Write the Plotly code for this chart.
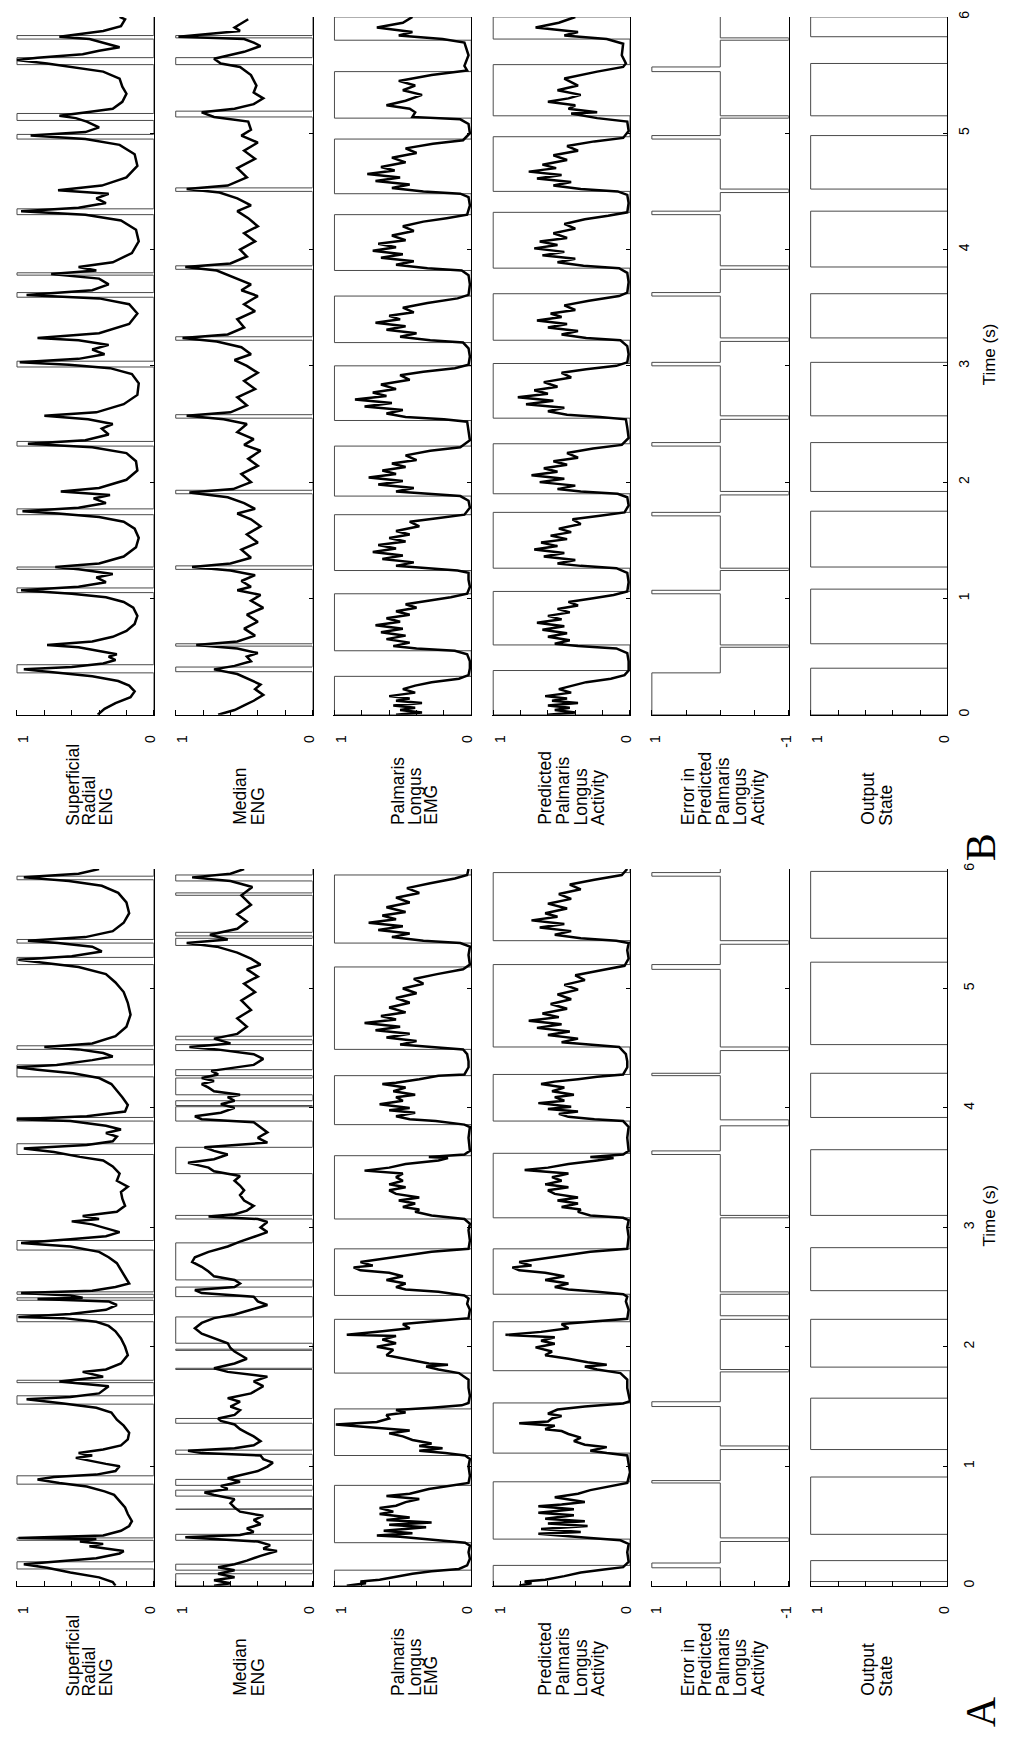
import plotly.graph_objects as go

# ---------------- page geometry (pixels) ----------------
W, H = 1010, 1739
COL_LEFT = [13 + 160 * c for c in range(6)]
COL_W = 139
# pixel rows of t=0 and t=6 for each panel
PANEL_ROWS = {"A": (1587, 867), "B": (712, 11)}
LABEL_START = {"A": 1700, "B": 825}

# ======================= panel A : recorded signals (time s, normalised value) =======================
a_sr = [(0.0, 0.28), (0.03, 0.30), (0.07, 0.40), (0.11, 0.61), (0.15, 0.78), (0.18, 0.95), (0.20, 0.73),
        (0.23, 0.42), (0.27, 0.25), (0.29, 0.22), (0.33, 0.47), (0.35, 0.37), (0.37, 0.54), (0.39, 0.42),
        (0.40, 0.99), (0.42, 0.37), (0.46, 0.24), (0.50, 0.18), (0.54, 0.16), (0.60, 0.19), (0.655, 0.21),
        (0.71, 0.25), (0.76, 0.29), (0.79, 0.36), (0.83, 0.49), (0.86, 0.69), (0.89, 0.85), (0.91, 0.73),
        (0.93, 0.42), (0.96, 0.28), (1.0, 0.25), (1.02, 0.35), (1.05, 0.49), (1.07, 0.57), (1.09, 0.45),
        (1.11, 0.55), (1.14, 0.37), (1.175, 0.24), (1.225, 0.19), (1.28, 0.18), (1.34, 0.22), (1.39, 0.27),
        (1.45, 0.31), (1.49, 0.42), (1.525, 0.66), (1.56, 0.93), (1.58, 0.61), (1.61, 0.40), (1.67, 0.33),
        (1.71, 0.69), (1.75, 0.37), (1.79, 0.52), (1.81, 0.35), (1.86, 0.24), (1.93, 0.19), (2.0, 0.21),
        (2.07, 0.24), (2.13, 0.28), (2.175, 0.33), (2.21, 0.42), (2.24, 0.66), (2.25, 0.99), (2.275, 0.61),
        (2.31, 0.35), (2.35, 0.27), (2.38, 0.33), (2.40, 0.85), (2.41, 0.52), (2.43, 0.61), (2.45, 0.97),
        (2.47, 0.45), (2.50, 0.28), (2.53, 0.18), (2.59, 0.21), (2.64, 0.24), (2.70, 0.27), (2.75, 0.33),
        (2.795, 0.40), (2.84, 0.61), (2.87, 0.97), (2.90, 0.61), (2.925, 0.35), (2.96, 0.25), (2.99, 0.35),
        (3.025, 0.45), (3.05, 0.60), (3.07, 0.40), (3.095, 0.52), (3.13, 0.27), (3.18, 0.21), (3.24, 0.23),
        (3.295, 0.24), (3.34, 0.19), (3.39, 0.27), (3.45, 0.25), (3.51, 0.30), (3.56, 0.37), (3.59, 0.54),
        (3.63, 0.73), (3.66, 0.95), (3.69, 0.49), (3.72, 0.30), (3.76, 0.27), (3.79, 0.35), (3.82, 0.24),
        (3.85, 0.35), (3.89, 0.61), (3.905, 1.0), (3.93, 0.49), (3.97, 0.21), (4.025, 0.19), (4.09, 0.23),
        (4.15, 0.27), (4.20, 0.31), (4.25, 0.40), (4.29, 0.59), (4.32, 0.85), (4.34, 1.0), (4.36, 0.71),
        (4.40, 0.45), (4.43, 0.30), (4.46, 0.37), (4.49, 0.55), (4.51, 0.80), (4.54, 0.45), (4.60, 0.28),
        (4.68, 0.20), (4.78, 0.17), (4.88, 0.19), (4.97, 0.22), (5.05, 0.28), (5.12, 0.35), (5.18, 0.55),
        (5.22, 0.85), (5.24, 0.99), (5.27, 0.60), (5.31, 0.38), (5.35, 0.45), (5.38, 0.70), (5.40, 0.92),
        (5.43, 0.50), (5.48, 0.30), (5.55, 0.22), (5.63, 0.18), (5.72, 0.20), (5.80, 0.26), (5.86, 0.38),
        (5.90, 0.62), (5.93, 0.95), (5.96, 0.55), (6.0, 0.40)]

a_med = [(0.0, 0.72), (0.02, 0.60), (0.045, 0.72), (0.07, 0.57), (0.10, 0.69), (0.13, 0.57), (0.155, 0.69),
         (0.18, 0.57), (0.21, 0.48), (0.25, 0.38), (0.29, 0.26), (0.31, 0.36), (0.34, 0.31), (0.37, 0.40),
         (0.39, 0.72), (0.405, 0.93), (0.425, 0.53), (0.45, 0.43), (0.48, 0.48), (0.515, 0.38), (0.55, 0.43),
         (0.585, 0.36), (0.62, 0.53), (0.655, 0.57), (0.69, 0.60), (0.725, 0.57), (0.76, 0.72), (0.78, 0.79),
         (0.81, 0.62), (0.835, 0.67), (0.87, 0.53), (0.90, 0.62), (0.925, 0.53), (0.96, 0.40), (0.997, 0.33),
         (1.03, 0.29), (1.06, 0.36), (1.09, 0.38), (1.11, 0.81), (1.13, 0.91), (1.15, 0.57), (1.175, 0.43),
         (1.21, 0.38), (1.25, 0.43), (1.28, 0.48), (1.31, 0.53), (1.35, 0.57), (1.38, 0.67), (1.40, 0.69),
         (1.43, 0.57), (1.47, 0.53), (1.50, 0.60), (1.54, 0.53), (1.57, 0.62), (1.61, 0.45), (1.67, 0.36),
         (1.71, 0.43), (1.75, 0.33), (1.79, 0.62), (1.82, 0.72), (1.86, 0.57), (1.90, 0.48), (1.96, 0.57),
         (1.99, 0.60), (2.03, 0.62), (2.07, 0.72), (2.11, 0.81), (2.155, 0.86), (2.20, 0.81), (2.24, 0.72),
         (2.27, 0.57), (2.31, 0.45), (2.35, 0.33), (2.38, 0.40), (2.42, 0.43), (2.45, 0.81), (2.475, 0.86),
         (2.50, 0.57), (2.53, 0.53), (2.56, 0.57), (2.59, 0.72), (2.63, 0.76), (2.67, 0.81), (2.71, 0.88),
         (2.75, 0.86), (2.795, 0.76), (2.84, 0.62), (2.88, 0.53), (2.92, 0.43), (2.96, 0.33), (3.0, 0.38),
         (3.045, 0.33), (3.07, 0.40), (3.09, 0.76), (3.11, 0.57), (3.14, 0.48), (3.18, 0.43), (3.225, 0.50),
         (3.27, 0.53), (3.31, 0.50), (3.35, 0.53), (3.39, 0.57), (3.43, 0.53), (3.47, 0.72), (3.50, 0.76),
         (3.54, 0.91), (3.57, 0.72), (3.61, 0.62), (3.64, 0.72), (3.67, 0.79), (3.71, 0.33), (3.75, 0.40),
         (3.795, 0.33), (3.84, 0.38), (3.88, 0.43), (3.905, 0.81), (3.93, 0.86), (3.96, 0.67), (4.0, 0.57),
         (4.03, 0.67), (4.06, 0.57), (4.09, 0.62), (4.11, 0.53), (4.14, 0.72), (4.17, 0.76), (4.20, 0.81),
         (4.225, 0.72), (4.25, 0.81), (4.28, 0.69), (4.31, 0.74), (4.34, 0.53), (4.36, 0.43), (4.41, 0.36),
         (4.45, 0.43), (4.49, 0.70), (4.51, 0.90), (4.54, 0.60), (4.58, 0.72), (4.62, 0.55), (4.68, 0.48),
         (4.75, 0.55), (4.82, 0.45), (4.90, 0.52), (4.97, 0.42), (5.04, 0.50), (5.10, 0.40), (5.16, 0.48),
         (5.20, 0.38), (5.25, 0.45), (5.30, 0.55), (5.35, 0.70), (5.38, 0.92), (5.41, 0.62), (5.45, 0.75),
         (5.50, 0.55), (5.56, 0.48), (5.62, 0.55), (5.70, 0.45), (5.78, 0.52), (5.85, 0.44), (5.90, 0.60),
         (5.93, 0.88), (5.96, 0.60), (6.0, 0.50)]

a_emg = [(0.0, 0.91), (0.02, 0.77), (0.035, 0.81), (0.05, 0.67), (0.07, 0.57), (0.10, 0.43), (0.12, 0.29),
         (0.14, 0.09), (0.17, 0.03), (0.225, 0.01), (0.28, 0.02), (0.335, 0.01), (0.36, 0.045), (0.38, 0.24),
         (0.41, 0.52), (0.42, 0.69), (0.44, 0.43), (0.46, 0.64), (0.49, 0.33), (0.51, 0.60), (0.53, 0.29),
         (0.55, 0.62), (0.57, 0.45), (0.60, 0.67), (0.62, 0.57), (0.65, 0.67), (0.67, 0.55), (0.70, 0.48),
         (0.725, 0.38), (0.75, 0.62), (0.77, 0.45), (0.81, 0.31), (0.84, 0.12), (0.86, 0.02), (0.92, 0.01),
         (1.0, 0.02), (1.06, 0.01), (1.09, 0.045), (1.11, 0.19), (1.13, 0.38), (1.15, 0.21), (1.17, 0.38),
         (1.19, 0.29), (1.22, 0.43), (1.25, 0.50), (1.275, 0.60), (1.30, 0.45), (1.32, 0.64), (1.34, 0.88),
         (1.35, 0.99), (1.37, 0.69), (1.40, 0.60), (1.43, 0.62), (1.45, 0.48), (1.47, 0.55), (1.49, 0.29),
         (1.51, 0.07), (1.53, 0.02), (1.59, 0.01), (1.655, 0.02), (1.725, 0.02), (1.78, 0.09), (1.81, 0.24),
         (1.835, 0.33), (1.85, 0.17), (1.86, 0.31), (1.90, 0.48), (1.93, 0.62), (1.975, 0.57), (2.0, 0.69),
         (2.03, 0.55), (2.06, 0.65), (2.09, 0.55), (2.10, 0.91), (2.13, 0.65), (2.155, 0.45), (2.19, 0.50),
         (2.22, 0.24), (2.24, 0.02), (2.31, 0.01), (2.36, 0.03), (2.405, 0.02), (2.43, 0.05), (2.46, 0.24),
         (2.48, 0.48), (2.50, 0.55), (2.53, 0.48), (2.56, 0.62), (2.59, 0.50), (2.62, 0.60), (2.64, 0.81),
         (2.665, 0.86), (2.68, 0.72), (2.71, 0.81), (2.74, 0.62), (2.77, 0.43), (2.795, 0.29), (2.82, 0.02),
         (2.89, 0.01), (2.975, 0.02), (3.03, 0.01), (3.07, 0.05), (3.10, 0.29), (3.13, 0.41), (3.15, 0.38),
         (3.17, 0.50), (3.20, 0.41), (3.225, 0.53), (3.25, 0.38), (3.28, 0.55), (3.31, 0.60), (3.335, 0.48),
         (3.36, 0.60), (3.39, 0.50), (3.42, 0.55), (3.45, 0.50), (3.475, 0.78), (3.50, 0.60), (3.53, 0.48),
         (3.56, 0.24), (3.58, 0.17), (3.59, 0.31), (3.61, 0.05), (3.64, 0.01), (3.75, 0.02), (3.84, 0.01),
         (3.86, 0.05), (3.89, 0.26), (3.905, 0.45), (3.93, 0.55), (3.96, 0.41), (3.98, 0.60), (4.0, 0.45),
         (4.03, 0.67), (4.06, 0.50), (4.09, 0.55), (4.11, 0.41), (4.14, 0.57), (4.17, 0.48), (4.20, 0.65),
         (4.21, 0.55), (4.24, 0.38), (4.27, 0.24), (4.28, 0.05), (4.34, 0.02), (4.39, 0.02), (4.45, 0.03),
         (4.49, 0.06), (4.51, 0.30), (4.53, 0.52), (4.56, 0.40), (4.59, 0.62), (4.62, 0.45), (4.65, 0.70),
         (4.68, 0.52), (4.71, 0.78), (4.74, 0.55), (4.77, 0.66), (4.80, 0.48), (4.84, 0.60), (4.88, 0.45),
         (4.92, 0.55), (4.96, 0.40), (5.00, 0.50), (5.04, 0.35), (5.08, 0.42), (5.12, 0.25), (5.16, 0.06),
         (5.20, 0.01), (5.28, 0.02), (5.35, 0.01), (5.38, 0.08), (5.40, 0.35), (5.43, 0.58), (5.46, 0.45),
         (5.49, 0.68), (5.52, 0.50), (5.55, 0.75), (5.58, 0.55), (5.61, 0.65), (5.64, 0.48), (5.68, 0.62),
         (5.72, 0.45), (5.76, 0.55), (5.80, 0.38), (5.84, 0.47), (5.88, 0.30), (5.92, 0.12), (5.95, 0.03),
         (6.0, 0.02)]

a_pred = [(0.0, 0.81), (0.02, 0.72), (0.035, 0.77), (0.05, 0.62), (0.08, 0.48), (0.11, 0.36), (0.135, 0.19),
          (0.155, 0.05), (0.20, 0.01), (0.28, 0.02), (0.35, 0.01), (0.38, 0.07), (0.40, 0.29), (0.42, 0.48),
          (0.435, 0.67), (0.45, 0.36), (0.475, 0.65), (0.50, 0.31), (0.52, 0.60), (0.54, 0.33), (0.56, 0.62),
          (0.59, 0.41), (0.61, 0.67), (0.64, 0.41), (0.665, 0.67), (0.68, 0.50), (0.70, 0.33), (0.74, 0.55),
          (0.77, 0.38), (0.80, 0.29), (0.835, 0.12), (0.86, 0.02), (0.95, 0.0), (1.03, 0.01), (1.09, 0.02),
          (1.11, 0.17), (1.13, 0.29), (1.16, 0.17), (1.18, 0.33), (1.21, 0.41), (1.24, 0.36), (1.27, 0.45),
          (1.295, 0.50), (1.31, 0.62), (1.34, 0.55), (1.36, 0.81), (1.375, 0.60), (1.40, 0.57), (1.42, 0.50),
          (1.44, 0.60), (1.475, 0.53), (1.50, 0.33), (1.525, 0.05), (1.545, 0.0), (1.61, 0.01), (1.655, 0.02),
          (1.725, 0.02), (1.78, 0.07), (1.81, 0.24), (1.835, 0.33), (1.85, 0.17), (1.87, 0.31), (1.90, 0.45),
          (1.93, 0.62), (1.96, 0.57), (1.995, 0.69), (2.025, 0.55), (2.05, 0.65), (2.08, 0.55), (2.10, 0.91),
          (2.125, 0.65), (2.155, 0.45), (2.19, 0.50), (2.215, 0.24), (2.235, 0.02), (2.31, 0.01), (2.38, 0.03),
          (2.42, 0.02), (2.44, 0.05), (2.46, 0.24), (2.48, 0.45), (2.50, 0.55), (2.53, 0.45), (2.56, 0.62),
          (2.59, 0.48), (2.62, 0.62), (2.64, 0.81), (2.665, 0.86), (2.68, 0.72), (2.71, 0.81), (2.74, 0.62),
          (2.77, 0.43), (2.795, 0.29), (2.82, 0.02), (2.92, 0.01), (3.0, 0.02), (3.06, 0.01), (3.08, 0.05),
          (3.10, 0.29), (3.13, 0.38), (3.15, 0.36), (3.17, 0.50), (3.20, 0.38), (3.225, 0.53), (3.25, 0.38),
          (3.28, 0.55), (3.31, 0.60), (3.335, 0.45), (3.36, 0.62), (3.39, 0.50), (3.42, 0.57), (3.45, 0.45),
          (3.48, 0.77), (3.50, 0.60), (3.53, 0.45), (3.56, 0.24), (3.58, 0.12), (3.59, 0.29), (3.61, 0.05),
          (3.64, 0.01), (3.75, 0.02), (3.84, 0.01), (3.89, 0.05), (3.905, 0.26), (3.925, 0.45), (3.95, 0.52),
          (3.97, 0.38), (3.99, 0.60), (4.01, 0.43), (4.04, 0.67), (4.06, 0.48), (4.09, 0.55), (4.11, 0.41),
          (4.14, 0.57), (4.17, 0.48), (4.20, 0.65), (4.22, 0.55), (4.24, 0.38), (4.26, 0.24), (4.28, 0.05),
          (4.34, 0.02), (4.39, 0.02), (4.45, 0.03), (4.51, 0.08), (4.53, 0.32), (4.55, 0.50), (4.58, 0.38),
          (4.61, 0.60), (4.64, 0.44), (4.67, 0.68), (4.70, 0.50), (4.73, 0.74), (4.76, 0.52), (4.79, 0.64),
          (4.83, 0.46), (4.87, 0.58), (4.91, 0.43), (4.95, 0.53), (4.99, 0.38), (5.03, 0.48), (5.07, 0.33),
          (5.11, 0.40), (5.15, 0.22), (5.19, 0.04), (5.25, 0.01), (5.32, 0.02), (5.38, 0.01), (5.40, 0.10),
          (5.42, 0.36), (5.45, 0.55), (5.48, 0.43), (5.51, 0.66), (5.54, 0.48), (5.57, 0.72), (5.60, 0.53),
          (5.63, 0.62), (5.67, 0.46), (5.71, 0.60), (5.75, 0.43), (5.79, 0.52), (5.83, 0.36), (5.87, 0.44),
          (5.91, 0.26), (5.95, 0.06), (6.0, 0.02)]

# panel A : detector / state records, (on, off) in seconds
a_sr_events = [(0.14, 0.20), (0.38, 0.40), (0.85, 0.92), (1.52, 1.59), (1.70, 1.72), (2.21, 2.27), (2.39, 2.41),
               (2.44, 2.46), (2.81, 2.89), (3.61, 3.70), (3.89, 3.92), (4.26, 4.36), (4.49, 4.52), (5.20, 5.26),
               (5.38, 5.41), (5.91, 5.94)]
a_med_events = [(0.0, 0.10), (0.13, 0.18), (0.38, 0.43), (0.64, 0.645), (0.75, 0.80), (0.84, 0.89), (1.10, 1.135),
                (1.36, 1.40), (1.81, 1.82), (1.97, 1.98), (2.03, 2.25), (2.42, 2.50), (2.56, 2.87), (3.07, 3.10),
                (3.45, 3.67), (3.89, 4.01), (4.02, 4.06), (4.11, 4.25), (4.27, 4.32), (4.48, 4.53), (4.57, 4.60),
                (5.36, 5.42), (5.44, 5.47), (5.78, 5.80), (5.90, 5.95)]
a_emg_on = [(0.0, 0.13), (0.36, 0.84), (1.09, 1.48), (1.78, 2.23), (2.43, 2.82), (3.07, 3.60), (3.86, 4.27),
            (4.49, 5.18), (5.38, 5.95)]
a_pred_on = [(0.0, 0.17), (0.39, 0.87), (1.11, 1.53), (1.80, 2.21), (2.44, 2.82), (3.08, 3.62), (3.89, 4.28),
             (4.51, 5.20), (5.40, 5.97)]
a_state_on = [(0.035, 0.21), (0.43, 0.91), (1.14, 1.57), (1.83, 2.23), (2.47, 2.83), (3.10, 3.65), (3.92, 4.29),
              (4.53, 5.22), (5.42, 5.98)]
a_error = [(0.15, 0.19, 1), (0.37, 0.40, -1), (0.86, 0.88, 1), (1.14, 1.17, -1), (1.50, 1.54, 1), (1.79, 1.81, -1),
           (2.23, 2.26, -1), (2.44, 2.46, -1), (3.08, 3.10, -1), (3.61, 3.64, 1), (3.85, 3.90, -1), (4.27, 4.29, 1),
           (4.48, 4.51, -1), (5.16, 5.20, 1), (5.37, 5.40, -1), (5.94, 5.97, 1)]

# ======================= panel B : recorded signals =======================
b_sr = [(0.0, 0.41), (0.05, 0.36), (0.10, 0.28), (0.15, 0.17), (0.20, 0.14), (0.25, 0.18), (0.29, 0.26),
        (0.33, 0.45), (0.36, 0.70), (0.39, 0.95), (0.41, 0.60), (0.44, 0.37), (0.47, 0.28), (0.50, 0.33),
        (0.52, 0.27), (0.55, 0.40), (0.58, 0.55), (0.60, 0.78), (0.63, 0.45), (0.67, 0.30), (0.72, 0.20),
        (0.78, 0.14), (0.85, 0.12), (0.92, 0.15), (0.97, 0.22), (1.01, 0.35), (1.04, 0.60), (1.07, 0.97),
        (1.10, 0.55), (1.14, 0.35), (1.18, 0.42), (1.21, 0.30), (1.25, 0.55), (1.27, 0.72), (1.30, 0.40),
        (1.36, 0.22), (1.44, 0.13), (1.52, 0.11), (1.60, 0.14), (1.66, 0.22), (1.70, 0.40), (1.73, 0.70),
        (1.75, 0.96), (1.78, 0.55), (1.82, 0.35), (1.86, 0.44), (1.89, 0.32), (1.92, 0.68), (1.95, 0.40),
        (2.02, 0.20), (2.10, 0.12), (2.18, 0.13), (2.25, 0.20), (2.30, 0.45), (2.33, 0.92), (2.36, 0.50),
        (2.41, 0.33), (2.46, 0.38), (2.50, 0.30), (2.54, 0.48), (2.57, 0.80), (2.60, 0.42), (2.67, 0.22),
        (2.75, 0.12), (2.85, 0.11), (2.93, 0.16), (2.98, 0.32), (3.01, 0.62), (3.03, 0.98), (3.06, 0.55),
        (3.10, 0.36), (3.14, 0.45), (3.18, 0.33), (3.22, 0.55), (3.24, 0.85), (3.28, 0.40), (3.36, 0.18),
        (3.45, 0.12), (3.53, 0.18), (3.58, 0.40), (3.61, 0.93), (3.65, 0.45), (3.70, 0.33), (3.75, 0.40),
        (3.79, 0.75), (3.82, 0.42), (3.85, 0.55), (3.89, 0.30), (3.97, 0.16), (4.07, 0.11), (4.17, 0.13),
        (4.25, 0.24), (4.30, 0.50), (4.33, 0.97), (4.36, 0.55), (4.40, 0.35), (4.44, 0.42), (4.48, 0.33),
        (4.51, 0.70), (4.55, 0.38), (4.62, 0.20), (4.72, 0.12), (4.82, 0.14), (4.90, 0.25), (4.95, 0.50),
        (4.98, 0.90), (5.01, 0.50), (5.05, 0.40), (5.10, 0.49), (5.13, 0.57), (5.15, 0.69), (5.18, 0.49),
        (5.21, 0.30), (5.27, 0.23), (5.34, 0.20), (5.40, 0.23), (5.47, 0.25), (5.53, 0.37), (5.60, 0.78),
        (5.63, 1.0), (5.65, 0.85), (5.68, 0.52), (5.71, 0.40), (5.74, 0.25), (5.78, 0.37), (5.81, 0.47),
        (5.83, 0.69), (5.88, 0.37), (5.92, 0.24), (5.98, 0.21), (6.0, 0.25)]

b_med = [(0.0, 0.69), (0.04, 0.57), (0.08, 0.50), (0.12, 0.43), (0.17, 0.36), (0.22, 0.42), (0.26, 0.38),
         (0.30, 0.45), (0.35, 0.55), (0.39, 0.72), (0.42, 0.57), (0.46, 0.45), (0.50, 0.48), (0.53, 0.40),
         (0.57, 0.55), (0.60, 0.85), (0.63, 0.55), (0.68, 0.42), (0.74, 0.50), (0.80, 0.40), (0.86, 0.48),
         (0.92, 0.36), (0.98, 0.45), (1.03, 0.38), (1.07, 0.55), (1.10, 0.45), (1.15, 0.52), (1.20, 0.42),
         (1.24, 0.60), (1.27, 0.88), (1.30, 0.60), (1.35, 0.45), (1.42, 0.52), (1.48, 0.40), (1.55, 0.48),
         (1.62, 0.38), (1.68, 0.45), (1.73, 0.55), (1.77, 0.42), (1.82, 0.50), (1.87, 0.62), (1.91, 0.90),
         (1.94, 0.58), (2.0, 0.45), (2.07, 0.52), (2.14, 0.40), (2.20, 0.47), (2.27, 0.38), (2.32, 0.50),
         (2.37, 0.43), (2.43, 0.55), (2.50, 0.48), (2.54, 0.65), (2.57, 0.92), (2.60, 0.60), (2.66, 0.48),
         (2.73, 0.55), (2.80, 0.42), (2.87, 0.50), (2.94, 0.40), (3.0, 0.48), (3.05, 0.57), (3.10, 0.45),
         (3.16, 0.52), (3.21, 0.70), (3.24, 0.95), (3.27, 0.62), (3.33, 0.50), (3.40, 0.55), (3.47, 0.42),
         (3.53, 0.50), (3.60, 0.40), (3.65, 0.52), (3.70, 0.45), (3.76, 0.58), (3.82, 0.70), (3.85, 0.93),
         (3.88, 0.60), (3.94, 0.48), (4.0, 0.53), (4.07, 0.42), (4.14, 0.50), (4.20, 0.40), (4.27, 0.47),
         (4.33, 0.55), (4.38, 0.45), (4.44, 0.55), (4.49, 0.68), (4.52, 0.92), (4.55, 0.62), (4.62, 0.48),
         (4.70, 0.55), (4.78, 0.42), (4.85, 0.50), (4.92, 0.40), (4.98, 0.52), (5.03, 0.45), (5.10, 0.47),
         (5.14, 0.72), (5.18, 0.81), (5.21, 0.57), (5.25, 0.43), (5.30, 0.36), (5.35, 0.43), (5.41, 0.41),
         (5.50, 0.45), (5.57, 0.53), (5.60, 0.67), (5.64, 0.72), (5.70, 0.50), (5.75, 0.38), (5.78, 0.43),
         (5.81, 0.50), (5.83, 0.98), (5.88, 0.53), (5.91, 0.57), (5.98, 0.47)]

b_emg = [(0.0, 0.55), (0.02, 0.36), (0.04, 0.52), (0.06, 0.41), (0.08, 0.57), (0.10, 0.36), (0.12, 0.55),
         (0.14, 0.45), (0.16, 0.60), (0.19, 0.41), (0.22, 0.50), (0.25, 0.41), (0.28, 0.29), (0.31, 0.09),
         (0.34, 0.02), (0.40, 0.01), (0.46, 0.01), (0.52, 0.03), (0.55, 0.12), (0.57, 0.40), (0.59, 0.57),
         (0.62, 0.45), (0.65, 0.62), (0.68, 0.48), (0.71, 0.66), (0.74, 0.50), (0.77, 0.70), (0.80, 0.52),
         (0.83, 0.62), (0.86, 0.45), (0.89, 0.55), (0.92, 0.40), (0.95, 0.48), (0.98, 0.30), (1.01, 0.15),
         (1.04, 0.03), (1.10, 0.01), (1.16, 0.02), (1.22, 0.02), (1.24, 0.10), (1.26, 0.35), (1.28, 0.55),
         (1.31, 0.42), (1.34, 0.65), (1.37, 0.50), (1.40, 0.72), (1.43, 0.55), (1.46, 0.68), (1.49, 0.48),
         (1.52, 0.60), (1.55, 0.45), (1.58, 0.55), (1.62, 0.38), (1.66, 0.45), (1.69, 0.25), (1.72, 0.05),
         (1.78, 0.01), (1.84, 0.02), (1.88, 0.08), (1.90, 0.35), (1.92, 0.55), (1.95, 0.42), (1.98, 0.68),
         (2.01, 0.50), (2.04, 0.75), (2.07, 0.55), (2.10, 0.65), (2.13, 0.48), (2.16, 0.58), (2.19, 0.40),
         (2.23, 0.48), (2.27, 0.30), (2.30, 0.08), (2.36, 0.01), (2.45, 0.02), (2.52, 0.03), (2.54, 0.20),
         (2.56, 0.48), (2.59, 0.62), (2.62, 0.50), (2.65, 0.78), (2.68, 0.58), (2.71, 0.85), (2.74, 0.62),
         (2.77, 0.72), (2.80, 0.55), (2.84, 0.66), (2.88, 0.45), (2.92, 0.52), (2.95, 0.35), (2.98, 0.12),
         (3.01, 0.02), (3.08, 0.01), (3.15, 0.02), (3.20, 0.06), (3.22, 0.30), (3.25, 0.52), (3.28, 0.40),
         (3.31, 0.62), (3.34, 0.48), (3.37, 0.70), (3.40, 0.52), (3.43, 0.60), (3.46, 0.42), (3.50, 0.50),
         (3.54, 0.32), (3.58, 0.10), (3.61, 0.02), (3.70, 0.01), (3.78, 0.02), (3.82, 0.07), (3.84, 0.32),
         (3.87, 0.55), (3.90, 0.42), (3.93, 0.66), (3.96, 0.50), (3.99, 0.72), (4.02, 0.55), (4.05, 0.68),
         (4.08, 0.48), (4.12, 0.58), (4.16, 0.42), (4.20, 0.50), (4.24, 0.35), (4.27, 0.18), (4.30, 0.03),
         (4.38, 0.01), (4.45, 0.02), (4.48, 0.08), (4.50, 0.35), (4.53, 0.58), (4.56, 0.45), (4.59, 0.70),
         (4.62, 0.52), (4.65, 0.76), (4.68, 0.56), (4.71, 0.66), (4.75, 0.48), (4.79, 0.58), (4.83, 0.40),
         (4.87, 0.48), (4.91, 0.28), (4.94, 0.06), (5.00, 0.01), (5.08, 0.02), (5.12, 0.08), (5.14, 0.43),
         (5.18, 0.41), (5.21, 0.45), (5.24, 0.62), (5.28, 0.48), (5.33, 0.36), (5.37, 0.50), (5.41, 0.41),
         (5.45, 0.53), (5.50, 0.29), (5.54, 0.03), (5.58, 0.05), (5.67, 0.02), (5.78, 0.05), (5.81, 0.21),
         (5.84, 0.53), (5.87, 0.43), (5.91, 0.69), (5.95, 0.50), (6.0, 0.43)]

b_pred = [(0.0, 0.60), (0.02, 0.40), (0.04, 0.55), (0.06, 0.44), (0.08, 0.60), (0.10, 0.38), (0.12, 0.57),
          (0.14, 0.46), (0.16, 0.62), (0.19, 0.43), (0.22, 0.52), (0.25, 0.43), (0.28, 0.32), (0.31, 0.14),
          (0.34, 0.04), (0.38, 0.01), (0.46, 0.01), (0.53, 0.02), (0.57, 0.10), (0.59, 0.38), (0.61, 0.55),
          (0.64, 0.44), (0.67, 0.60), (0.70, 0.46), (0.73, 0.64), (0.76, 0.48), (0.79, 0.68), (0.82, 0.50),
          (0.85, 0.60), (0.88, 0.44), (0.91, 0.53), (0.94, 0.38), (0.97, 0.45), (1.00, 0.28), (1.03, 0.12),
          (1.06, 0.02), (1.14, 0.01), (1.22, 0.02), (1.26, 0.10), (1.28, 0.36), (1.30, 0.53), (1.33, 0.40),
          (1.36, 0.63), (1.39, 0.48), (1.42, 0.70), (1.45, 0.53), (1.48, 0.65), (1.51, 0.46), (1.54, 0.58),
          (1.57, 0.43), (1.60, 0.52), (1.64, 0.36), (1.68, 0.42), (1.71, 0.22), (1.74, 0.04), (1.80, 0.01),
          (1.87, 0.02), (1.90, 0.09), (1.92, 0.36), (1.94, 0.53), (1.97, 0.40), (2.00, 0.66), (2.03, 0.48),
          (2.06, 0.72), (2.09, 0.53), (2.12, 0.63), (2.15, 0.46), (2.18, 0.56), (2.21, 0.38), (2.25, 0.46),
          (2.29, 0.27), (2.32, 0.06), (2.38, 0.01), (2.47, 0.02), (2.54, 0.03), (2.56, 0.22), (2.58, 0.46),
          (2.61, 0.60), (2.64, 0.48), (2.67, 0.76), (2.70, 0.56), (2.73, 0.82), (2.76, 0.60), (2.79, 0.70),
          (2.82, 0.53), (2.86, 0.63), (2.90, 0.43), (2.94, 0.50), (2.97, 0.32), (3.00, 0.10), (3.03, 0.02),
          (3.10, 0.01), (3.17, 0.02), (3.22, 0.07), (3.24, 0.32), (3.27, 0.50), (3.30, 0.38), (3.33, 0.60),
          (3.36, 0.46), (3.39, 0.68), (3.42, 0.50), (3.45, 0.58), (3.48, 0.40), (3.52, 0.48), (3.56, 0.30),
          (3.60, 0.08), (3.63, 0.02), (3.72, 0.01), (3.80, 0.02), (3.84, 0.08), (3.86, 0.34), (3.89, 0.53),
          (3.92, 0.40), (3.95, 0.64), (3.98, 0.48), (4.01, 0.70), (4.04, 0.53), (4.07, 0.66), (4.10, 0.46),
          (4.14, 0.56), (4.18, 0.40), (4.22, 0.48), (4.26, 0.33), (4.29, 0.16), (4.32, 0.02), (4.40, 0.01),
          (4.47, 0.02), (4.50, 0.09), (4.52, 0.36), (4.55, 0.56), (4.58, 0.43), (4.61, 0.68), (4.64, 0.50),
          (4.67, 0.74), (4.70, 0.54), (4.73, 0.64), (4.77, 0.46), (4.81, 0.56), (4.85, 0.38), (4.89, 0.46),
          (4.93, 0.26), (4.96, 0.05), (5.02, 0.01), (5.10, 0.02), (5.13, 0.24), (5.17, 0.43), (5.18, 0.24),
          (5.21, 0.45), (5.24, 0.40), (5.27, 0.60), (5.30, 0.45), (5.33, 0.36), (5.37, 0.53), (5.41, 0.38),
          (5.47, 0.48), (5.53, 0.24), (5.57, 0.05), (5.60, 0.03), (5.67, 0.06), (5.77, 0.05), (5.81, 0.17),
          (5.84, 0.48), (5.87, 0.38), (5.91, 0.69), (5.95, 0.52), (6.0, 0.40)]

# panel B : detector / state records
b_sr_events = [(0.36, 0.43), (1.05, 1.09), (1.25, 1.27), (1.72, 1.77), (2.31, 2.35), (2.99, 3.04), (3.59, 3.63),
               (3.78, 3.80), (4.30, 4.35), (4.95, 4.99), (5.11, 5.17), (5.59, 5.65), (5.81, 5.84)]
b_med_events = [(0.37, 0.41), (0.59, 0.61), (1.25, 1.28), (1.90, 1.93), (2.55, 2.58), (3.22, 3.25), (3.83, 3.86),
                (4.50, 4.53), (5.14, 5.19), (5.59, 5.65), (5.82, 5.84)]
b_emg_on = [(0.0, 0.33), (0.55, 1.04), (1.24, 1.72), (1.88, 2.31), (2.53, 3.0), (3.20, 3.60), (3.82, 4.30),
            (4.48, 4.95), (5.13, 5.53), (5.80, 6.0)]
b_pred_on = [(0.0, 0.38), (0.60, 1.06), (1.26, 1.74), (1.90, 2.33), (2.55, 3.02), (3.22, 3.62), (3.84, 4.32),
             (4.50, 4.97), (5.15, 5.59), (5.81, 6.0)]
b_state_on = [(0.0, 0.40), (0.61, 1.08), (1.27, 1.75), (1.92, 2.34), (2.57, 3.03), (3.24, 3.62), (3.85, 4.33),
              (4.52, 4.98), (5.15, 5.60), (5.83, 6.0)]
b_error = [(0.0, 0.36, 1), (0.58, 0.60, -1), (1.04, 1.07, 1), (1.24, 1.26, -1), (1.71, 1.74, 1), (1.89, 1.92, -1),
           (2.31, 2.34, 1), (2.54, 2.57, -1), (3.00, 3.03, 1), (3.21, 3.24, -1), (3.60, 3.63, 1), (3.83, 3.86, -1),
           (4.30, 4.33, 1), (4.49, 4.52, -1), (4.95, 4.98, 1), (5.13, 5.15, -1), (5.53, 5.57, 1), (5.80, 5.82, -1)]

# ---------------- text ----------------
col_titles = [["Superficial", "Radial", "ENG"], ["Median", "ENG"], ["Palmaris", "Longus", "EMG"],
              ["Predicted", "Palmaris", "Longus", "Activity"],
              ["Error in", "Predicted", "Palmaris", "Longus", "Activity"], ["Output", "State"]]
title_line_x = [[71, 87, 104], [239, 257], [398, 415, 432], [547, 565, 583, 600], [690, 708, 726, 743, 761],
                [872, 890]]
time_ticks = [0, 1, 2, 3, 4, 5, 6]


def step_path(intervals, hi=1.0):
    """Polyline for an on/off record: 0 outside the intervals, `hi` inside."""
    xs, ys = [0.0], [0.0]
    for a, b in intervals:
        xs += [0.0, hi, hi, 0.0]
        ys += [a, a, b, b]
    xs.append(0.0)
    ys.append(6.0)
    return xs, ys


def error_path(spikes):
    xs, ys = [0.0], [0.0]
    for a, b, val in spikes:
        xs += [0.0, val, val, 0.0]
        ys += [a, a, b, b]
    xs.append(0.0)
    ys.append(6.0)
    return xs, ys


fig = go.Figure()
layout = dict()
annotations = []

panels = {
    "A": dict(sig=[a_sr, a_med, a_emg, a_pred], thin=[a_sr_events, a_med_events, a_emg_on, a_pred_on],
              err=a_error, state=a_state_on, tick_standoff=9),
    "B": dict(sig=[b_sr, b_med, b_emg, b_pred], thin=[b_sr_events, b_med_events, b_emg_on, b_pred_on],
              err=b_error, state=b_state_on, tick_standoff=4),
}

THIN = dict(color="#4a4a4a", width=1)
THICK = dict(color="black", width=2.5)

for p, name in enumerate(["A", "B"]):
    row0, row6 = PANEL_ROWS[name]
    ydom = [1 - row0 / H, 1 - row6 / H]
    d = panels[name]
    for c in range(6):
        k = p * 6 + c + 1
        xs_name = "x" if k == 1 else f"x{k}"
        ys_name = "y" if k == 1 else f"y{k}"
        xdom = [COL_LEFT[c] / W, (COL_LEFT[c] + COL_W) / W]
        if c == 4:
            rng = [1.015, -1.0]
            minor_vals = [-1, -0.5, 0, 0.5, 1]
            lab_vals, lab_text = [0.94, -0.96], ["1", "-1"]
        else:
            rng = [1.008, 0.0]
            minor_vals = [0, 0.2, 0.4, 0.6, 0.8, 1.0]
            lab_vals, lab_text = [0.95, 0.025], ["1", "0"]
        layout["xaxis" + ("" if k == 1 else str(k))] = dict(
            domain=xdom, anchor=ys_name, range=rng, showline=True, linecolor="black", linewidth=1,
            showgrid=False, zeroline=False, ticks="", tickmode="array", tickvals=lab_vals, ticktext=lab_text,
            tickangle=-90, tickfont=dict(size=14, color="black"), ticklabelstandoff=14,
            minor=dict(tickmode="array", tickvals=minor_vals, ticks="inside", ticklen=5, tickcolor="black",
                       showgrid=False),
        )
        layout["yaxis" + ("" if k == 1 else str(k))] = dict(
            domain=ydom, anchor=xs_name, side="right", range=[0, 6], showline=True, linecolor="black",
            linewidth=1, showgrid=False, zeroline=False, ticks="inside", ticklen=4, tickcolor="black",
            tickmode="array", tickvals=time_ticks, ticktext=[str(v) for v in time_ticks],
            showticklabels=(c == 5), tickangle=-90, tickfont=dict(size=14, color="black"),
            ticklabelstandoff=d["tick_standoff"],
        )
        if c < 4:
            tx, ty = step_path(d["thin"][c])
            fig.add_trace(go.Scatter(x=tx, y=ty, mode="lines", line=THIN, xaxis=xs_name, yaxis=ys_name,
                                     hoverinfo="skip"))
            st = [pt[0] for pt in d["sig"][c]]
            sv = [pt[1] for pt in d["sig"][c]]
            fig.add_trace(go.Scatter(x=sv, y=st, mode="lines", line=THICK, xaxis=xs_name, yaxis=ys_name))
        elif c == 4:
            tx, ty = error_path(d["err"])
            fig.add_trace(go.Scatter(x=tx, y=ty, mode="lines", line=THIN, xaxis=xs_name, yaxis=ys_name))
        else:
            tx, ty = step_path(d["state"])
            fig.add_trace(go.Scatter(x=tx, y=ty, mode="lines", line=THIN, xaxis=xs_name, yaxis=ys_name))

        # column title, one rotated annotation per line
        for txt, lx in zip(col_titles[c], title_line_x[c]):
            annotations.append(dict(text=txt, x=lx / W, y=1 - LABEL_START[name] / H, xref="paper",
                                    yref="paper", xanchor="center", yanchor="bottom", textangle=-90,
                                    showarrow=False, font=dict(size=17.5, color="black")))

    # time axis title
    t_row = row0 - 3.1 * (row0 - row6) / 6
    annotations.append(dict(text="Time (s)", x=994 / W, y=1 - t_row / H, xref="paper", yref="paper",
                            xanchor="center", yanchor="middle", textangle=-90, showarrow=False,
                            font=dict(size=17, color="black")))

# panel letters
for letter, row in (("A", 1714), ("B", 845)):
    annotations.append(dict(text=letter, x=986 / W, y=1 - row / H, xref="paper", yref="paper",
                            xanchor="center", yanchor="middle", textangle=-90, showarrow=False,
                            font=dict(size=42, color="black",
                                      family="Liberation Serif, Times New Roman, serif")))

fig.update_layout(
    width=W, height=H, margin=dict(l=0, r=0, t=0, b=0), paper_bgcolor="white", plot_bgcolor="white",
    showlegend=False, font=dict(family="Liberation Sans, Arial, Helvetica, sans-serif", color="black"),
    annotations=annotations, **layout,
)

fig.write_html("out.html")
